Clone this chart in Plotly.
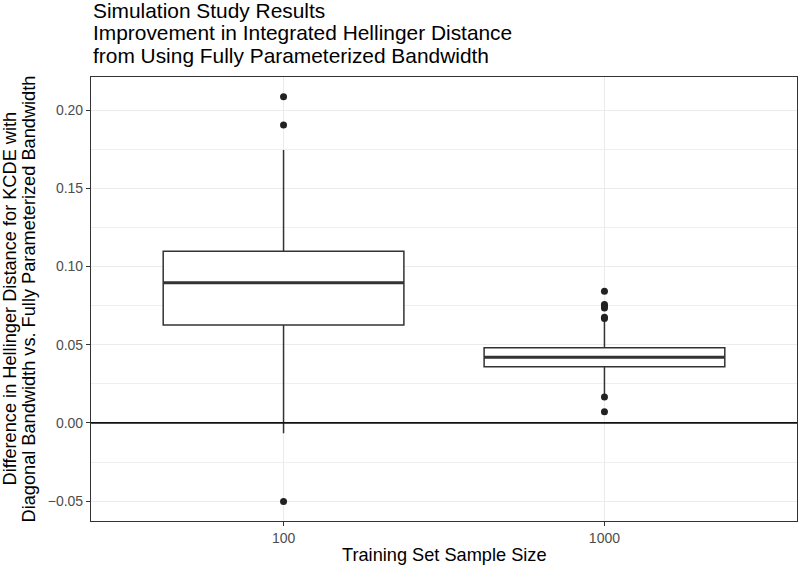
import plotly.graph_objects as go

# Box statistics (ggplot-style boxplot)
sample_sizes = ["100", "1000"]
q1_values = [0.0627, 0.0360]
median_values = [0.0897, 0.0420]
q3_values = [0.1098, 0.0481]
lower_whiskers = [-0.0066, 0.0185]
upper_whiskers = [0.1745, 0.0650]

# Outlying observations for each sample size
outliers_100 = [0.2086, 0.1905, -0.0503]
outliers_1000 = [0.0842, 0.0757, 0.0748, 0.0735, 0.0676, 0.0668, 0.0166, 0.0072]

y_ticks = [-0.05, 0.00, 0.05, 0.10, 0.15, 0.20]

title_lines = [
    "Simulation Study Results",
    "Improvement in Integrated Hellinger Distance",
    "from Using Fully Parameterized Bandwidth",
]
y_title_lines = [
    "Difference in Hellinger Distance for KCDE with",
    "Diagonal Bandwidth vs. Fully Parameterized Bandwidth",
]
x_title = "Training Set Sample Size"

font_family = "Liberation Sans, Arial, sans-serif"
box_color = "#333333"

# plot panel in pixels (800x566 page)
W, H = 800, 566
left, right, top, bottom = 91, 797, 77, 521
pw, ph = right - left, bottom - top


def px_x(p):
    return (p - left) / pw


def px_y(p):
    return (bottom - p) / ph


fig = go.Figure()

# Main boxes
fig.add_trace(go.Box(
    x=sample_sizes,
    q1=q1_values,
    median=median_values,
    q3=q3_values,
    lowerfence=lower_whiskers,
    upperfence=upper_whiskers,
    width=0.75,
    whiskerwidth=0,
    fillcolor="white",
    line=dict(color=box_color, width=1.5),
    boxpoints=False,
    showlegend=False,
    hoverinfo="skip",
))

# Thick median bar drawn as a flat box on top
fig.add_trace(go.Box(
    x=sample_sizes,
    q1=median_values,
    median=median_values,
    q3=median_values,
    lowerfence=median_values,
    upperfence=median_values,
    width=0.75,
    whiskerwidth=0,
    fillcolor="rgba(0,0,0,0)",
    line=dict(color=box_color, width=3),
    boxpoints=False,
    showlegend=False,
    hoverinfo="skip",
))

# Outlier points
fig.add_trace(go.Scatter(
    x=[sample_sizes[0]] * len(outliers_100) + [sample_sizes[1]] * len(outliers_1000),
    y=outliers_100 + outliers_1000,
    mode="markers",
    marker=dict(color="#222222", size=7),
    showlegend=False,
    hoverinfo="skip",
))

# Reference line at zero
fig.add_hline(y=0, line=dict(color="#111111", width=1.7), layer="above")

# Titles as annotations for exact placement
annotations = []
for text, py in zip(title_lines, [10, 32.5, 55]):
    annotations.append(dict(
        text=text, xref="paper", yref="paper", x=px_x(91), y=px_y(py),
        xanchor="left", yanchor="middle", showarrow=False,
        font=dict(size=20.9, color="black"),
    ))
for text, px in zip(y_title_lines, [9.5, 28.5]):
    annotations.append(dict(
        text=text, xref="paper", yref="paper", x=px_x(px), y=0.5,
        xanchor="center", yanchor="middle", textangle=-90, showarrow=False,
        font=dict(size=18.2, color="black"),
    ))
annotations.append(dict(
    text=x_title, xref="paper", yref="paper", x=0.5, y=px_y(555),
    xanchor="center", yanchor="middle", showarrow=False,
    font=dict(size=18.2, color="black"),
))

fig.update_layout(
    width=W,
    height=H,
    boxmode="overlay",
    paper_bgcolor="white",
    plot_bgcolor="white",
    font=dict(family=font_family, color="black"),
    margin=dict(l=left, r=W - right, t=top, b=H - bottom, autoexpand=False),
    annotations=annotations,
    xaxis=dict(
        type="category",
        range=[-0.6, 1.6],
        showgrid=True,
        gridcolor="#EBEBEB",
        gridwidth=1.1,
        ticks="outside",
        ticklen=4,
        tickwidth=1.1,
        tickcolor="#333333",
        tickfont=dict(size=14, color="#4D4D4D"),
        showline=True,
        linecolor="#333333",
        linewidth=1.1,
        mirror=True,
        zeroline=False,
        automargin=False,
    ),
    yaxis=dict(
        range=[-0.0627, 0.2212],
        tickvals=y_ticks,
        ticktext=[f"{v:.2f}".replace("-", "\u2212") for v in y_ticks],
        showgrid=True,
        gridcolor="#EBEBEB",
        gridwidth=1.1,
        minor=dict(dtick=0.025, tick0=0, showgrid=True, gridcolor="#EFEFEF", gridwidth=0.7),
        ticks="outside",
        ticklen=4,
        tickwidth=1.1,
        tickcolor="#333333",
        tickfont=dict(size=14, color="#4D4D4D"),
        showline=True,
        linecolor="#333333",
        linewidth=1.1,
        mirror=True,
        zeroline=False,
        automargin=False,
    ),
)

# drop the default 8px body margin so the figure sits at the page origin
fig.write_html(
    "out.html",
    config={"displayModeBar": False},
    post_script="document.body.style.margin='0';",
)
